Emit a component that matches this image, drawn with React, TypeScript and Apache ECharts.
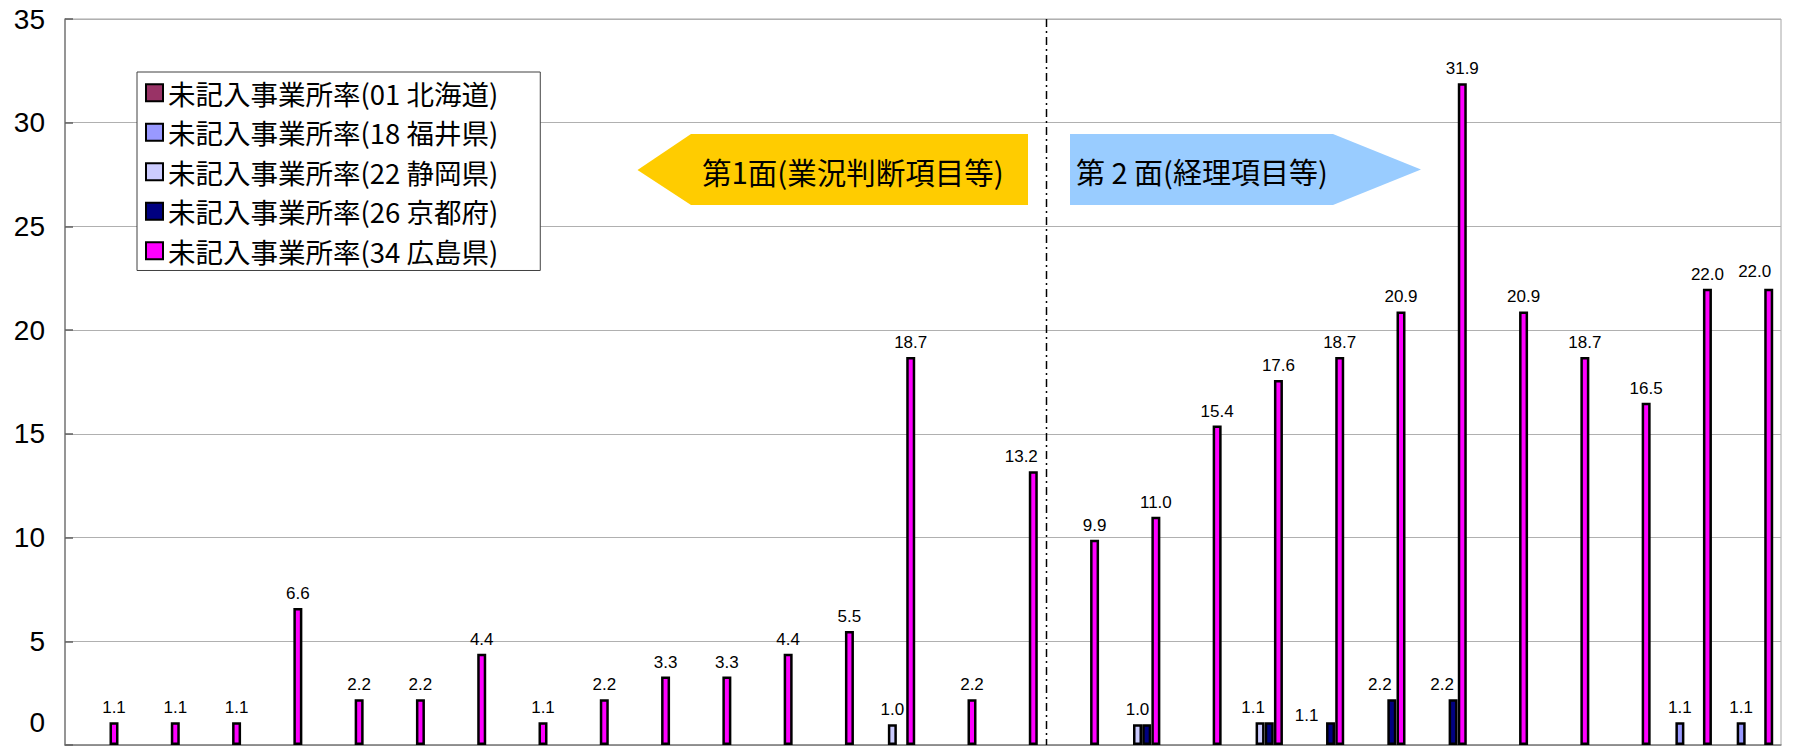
import React, { useEffect, useRef } from 'react';
import * as echarts from 'echarts';

const categories = ['1','2','3','4','5','6','7','8','9','10','11','12','13','14','15','16','17','18','19','20','21','22','23','24','25','26','27','28'];

const seriesNames = [
  '未記入事業所率(01 北海道)',
  '未記入事業所率(18 福井県)',
  '未記入事業所率(22 静岡県)',
  '未記入事業所率(26 京都府)',
  '未記入事業所率(34 広島県)',
];

const hokkaido = ['-','-','-','-','-','-','-','-','-','-','-','-','-','-','-','-','-','-','-','-','-','-','-','-','-','-','-','-'];
const fukui = ['-','-','-','-','-','-','-','-','-','-','-','-','-','-','-','-','-','-','-','-','-','-','-','-','-','-',1.1,1.1];
const shizuoka = ['-','-','-','-','-','-','-','-','-','-','-','-','-',1.0,'-','-','-',1.0,'-',1.1,'-','-','-','-','-','-','-','-'];
const kyoto = ['-','-','-','-','-','-','-','-','-','-','-','-','-','-','-','-','-',1.0,'-',1.1,1.1,2.2,2.2,'-','-','-','-','-'];
const hiroshima = [1.1,1.1,1.1,6.6,2.2,2.2,4.4,1.1,2.2,3.3,3.3,4.4,5.5,18.7,2.2,13.2,9.9,11.0,15.4,17.6,18.7,20.9,31.9,20.9,18.7,16.5,22.0,22.0];

const yTicks = [0, 5, 10, 15, 20, 25, 30, 35];

const colors = ['#993366', '#9999FF', '#CCCCFF', '#000080', '#FF00FF'];

const panelLeftText = '第1面(業況判断項目等)';
const panelRightText = '第 2 面(経理項目等)';

// label placement tweaks (index -> offset), hidden labels
const labelOffsets: Record<string, Record<number, number[]>> = {
  shizuoka: { 19: [-7, 0] },
  kyoto: { 20: [-24, 8], 21: [-12, 0], 22: [-11, 0] },
  hiroshima: { 15: [-12, 0], 27: [-14, -3] },
};
const labelHidden: Record<string, number[]> = {
  kyoto: [17, 19],
};

function build(key: string, vals: any[]) {
  const offs = labelOffsets[key] || {};
  const hid = labelHidden[key] || [];
  return vals.map((v, i) =>
    v === '-'
      ? '-'
      : { value: v, label: { show: !hid.includes(i), offset: offs[i] || [0, 0] } }
  );
}

export default function App() {
  const ref = useRef<HTMLDivElement>(null);
  useEffect(() => {
    if (!ref.current) return;
    const chart = echarts.init(ref.current, null, { renderer: 'svg' });
    const dataSets = [
      build('hokkaido', hokkaido),
      build('fukui', fukui),
      build('shizuoka', shizuoka),
      build('kyoto', kyoto),
      build('hiroshima', hiroshima),
    ];
    const gridTop = 19;
    const gridHeight = 726;
    chart.setOption({
      animation: false,
      backgroundColor: '#ffffff',
      grid: {
        left: 65,
        top: gridTop,
        width: 1716,
        height: gridHeight,
        show: true,
        borderColor: '#a6a6a6',
        borderWidth: 1,
        backgroundColor: 'transparent',
      },
      legend: {
        data: seriesNames,
        orient: 'vertical',
        left: 137,
        top: 72,
        backgroundColor: '#ffffff',
        borderColor: '#404040',
        borderWidth: 1,
        padding: [7, 42, 6, 8],
        itemWidth: 17,
        itemHeight: 17,
        itemGap: 12,
        icon: 'rect',
        itemStyle: { borderColor: '#000', borderWidth: 2 },
        textStyle: {
          fontSize: 27.5,
          lineHeight: 27,
          color: '#000',
          fontFamily: '"Noto Sans CJK JP", sans-serif',
        },
        selectedMode: false,
      },
      xAxis: {
        type: 'category',
        data: categories,
        axisLine: { show: true, lineStyle: { color: '#808080', width: 1.5 } },
        axisTick: { show: false },
        axisLabel: { show: false },
        splitLine: { show: false },
      },
      yAxis: {
        type: 'value',
        min: yTicks[0],
        max: yTicks[yTicks.length - 1],
        interval: 5,
        axisLine: { show: true, lineStyle: { color: '#808080', width: 1.5 } },
        axisTick: { show: true, inside: true, length: 8, lineStyle: { color: '#606060', width: 1.5 } },
        splitLine: { show: true, lineStyle: { color: '#b0b0b0', width: 1 } },
        axisLabel: {
          color: '#000',
          fontSize: 28,
          margin: 20,
          fontFamily: '"Liberation Sans", Arial, sans-serif',
          formatter: (v: number) => (v === 0 ? '{z|0}' : String(v)),
          rich: {
            z: {
              fontSize: 28,
              color: '#000',
              fontFamily: '"Liberation Sans", Arial, sans-serif',
              padding: [0, 0, 46, 0],
            },
          },
        },
      },
      series: dataSets.map((d, i) => ({
        name: seriesNames[i],
        type: 'bar',
        data: d,
        barWidth: 9,
        barGap: '2%',
        itemStyle: { color: colors[i], borderColor: '#000', borderWidth: 2.5 },
        label: {
          show: true,
          position: 'top',
          distance: 6,
          fontSize: 17,
          color: '#000',
          fontFamily: '"Liberation Sans", Arial, sans-serif',
          formatter: (p: any) => Number(p.value).toFixed(1),
        },
      })),
    });

    const x15 = chart.convertToPixel({ xAxisIndex: 0 }, 15) as number;
    const x16 = chart.convertToPixel({ xAxisIndex: 0 }, 16) as number;
    const divX = Math.round((x15 + x16) / 2) + 0.5;

    chart.setOption({
      graphic: [
        {
          type: 'line',
          z: 5,
          shape: { x1: divX, y1: gridTop, x2: divX, y2: gridTop + gridHeight },
          style: { stroke: '#000', lineWidth: 1.5, lineDash: [8, 4, 2, 4] },
        },
        {
          type: 'polygon',
          z: 6,
          shape: { points: [[637.5, 170], [691, 134], [1028, 134], [1028, 205], [691, 205]] },
          style: { fill: '#FFCC00' },
        },
        {
          type: 'text',
          z: 7,
          x: 702,
          y: 171,
          style: {
            text: panelLeftText,
            fontSize: 29.5,
            fill: '#000',
            fontFamily: '"Noto Sans CJK JP", sans-serif',
            verticalAlign: 'middle',
          },
        },
        {
          type: 'polygon',
          z: 6,
          shape: { points: [[1070, 134], [1333, 134], [1421, 169.5], [1333, 205], [1070, 205]] },
          style: { fill: '#99CCFF' },
        },
        {
          type: 'text',
          z: 7,
          x: 1076,
          y: 171,
          style: {
            text: panelRightText,
            fontSize: 29,
            fill: '#000',
            fontFamily: '"Noto Sans CJK JP", sans-serif',
            verticalAlign: 'middle',
          },
        },
      ],
    });

    return () => chart.dispose();
  }, []);
  return (
    <div
      ref={ref}
      style={{ position: 'absolute', left: 0, top: 0, width: 1796, height: 746 }}
    />
  );
}
